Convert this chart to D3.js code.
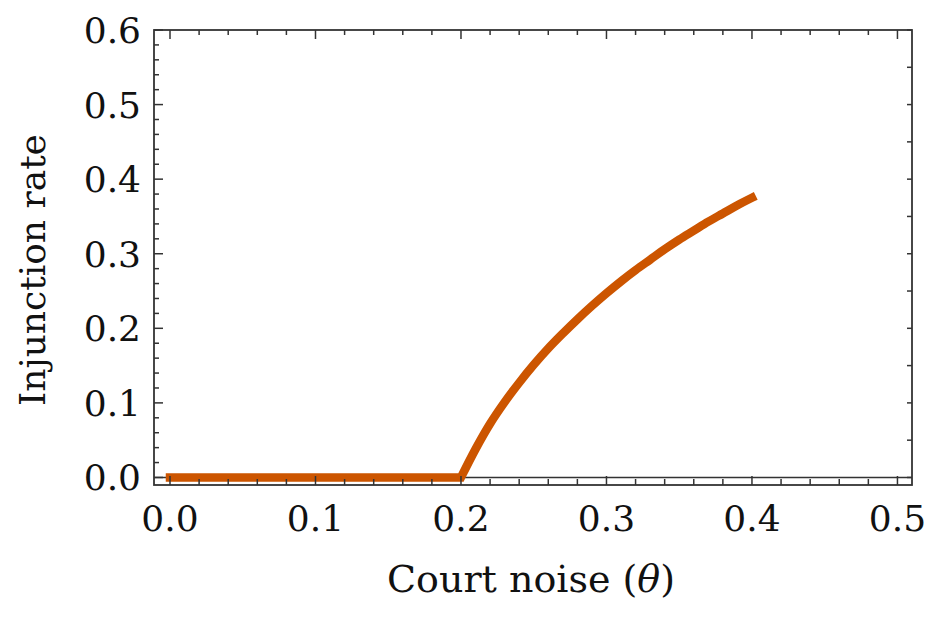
<!DOCTYPE html>
<html>
<head>
<meta charset="utf-8">
<script src="https://cdn.jsdelivr.net/npm/d3@7"></script>
<style>
  body { margin: 0; background: #fff; }
  text { font-family: "DejaVu Serif", serif; fill: #111; }
</style>
</head>
<body>
<div id="chart"></div>
<script>
// values
const flatTheta = [0, 0.05, 0.10, 0.15, 0.20];
const flatRate = [0, 0, 0, 0, 0];
const riseTheta = [0.20, 0.21, 0.22, 0.23, 0.24, 0.25, 0.26, 0.27, 0.28, 0.29, 0.30,
                   0.31, 0.32, 0.33, 0.34, 0.35, 0.36, 0.37, 0.38, 0.39, 0.40];
const riseRate = [0, 0.038, 0.072, 0.101, 0.127, 0.151, 0.173, 0.193, 0.212, 0.230, 0.247,
                  0.263, 0.278, 0.292, 0.306, 0.319, 0.331, 0.343, 0.354, 0.365, 0.375];
const xTicks = [0, 0.1, 0.2, 0.3, 0.4, 0.5];
const yTicks = [0, 0.1, 0.2, 0.3, 0.4, 0.5, 0.6];
const xTitle = "Court noise (";
const yTitle = "Injunction rate";

const width = 931, height = 618;
const svg = d3.select("#chart").append("svg")
    .attr("width", width)
    .attr("height", height);

const x = d3.scaleLinear().domain([-0.011, 0.51]).range([154, 912]);
const y = d3.scaleLinear().domain([-0.0101, 0.6]).range([485, 30]);

const frameColor = "#333";

// x axis line at y = 0
svg.append("line")
    .attr("x1", x.range()[0]).attr("x2", x.range()[1])
    .attr("y1", y(0)).attr("y2", y(0))
    .attr("stroke", frameColor).attr("stroke-width", 1.5);

// curve: flat part straight, rising part smooth, joined with a sharp corner
const flatLine = d3.line().x(d => x(d[0])).y(d => y(d[1]));
const riseLine = d3.line().x(d => x(d[0])).y(d => y(d[1])).curve(d3.curveMonotoneX);
const flatPath = flatLine(flatTheta.map((t, i) => [t, flatRate[i]]));
const risePath = riseLine(riseTheta.map((t, i) => [t, riseRate[i]]));
svg.append("path")
    .attr("d", flatPath + "L" + risePath.slice(1))
    .attr("fill", "none")
    .attr("stroke", "#cc5500")
    .attr("stroke-width", 8.5)
    .attr("stroke-linecap", "square")
    .attr("stroke-linejoin", "miter");

// frame ticks
const minorX = d3.range(0, 0.51, 0.02).filter(v => Math.abs(v * 10 - Math.round(v * 10)) > 1e-6);
const minorY = d3.range(0, 0.61, 0.02).filter(v => Math.abs(v * 10 - Math.round(v * 10)) > 1e-6);
const ticks = svg.append("g").attr("stroke", frameColor).attr("stroke-width", 1.5);
const [x0, x1] = x.range();
const [yb, yt] = y.range();

xTicks.forEach(v => {
    ticks.append("line").attr("x1", x(v)).attr("x2", x(v)).attr("y1", yb).attr("y2", yb - 9);
    ticks.append("line").attr("x1", x(v)).attr("x2", x(v)).attr("y1", yt).attr("y2", yt + 9);
});
minorX.forEach(v => {
    ticks.append("line").attr("x1", x(v)).attr("x2", x(v)).attr("y1", yb).attr("y2", yb - 6);
    ticks.append("line").attr("x1", x(v)).attr("x2", x(v)).attr("y1", yt).attr("y2", yt + 5);
});
yTicks.forEach(v => {
    ticks.append("line").attr("x1", x0).attr("x2", x0 + 9).attr("y1", y(v)).attr("y2", y(v));
});
minorY.forEach(v => {
    ticks.append("line").attr("x1", x0).attr("x2", x0 + 5).attr("y1", y(v)).attr("y2", y(v));
});
// right side carries ticks every 0.05
d3.range(0, 0.61, 0.05).forEach(v => {
    ticks.append("line").attr("x1", x1).attr("x2", x1 - 5).attr("y1", y(v)).attr("y2", y(v));
});

// frame
svg.append("rect")
    .attr("x", x0).attr("y", yt)
    .attr("width", x1 - x0).attr("height", yb - yt)
    .attr("fill", "none")
    .attr("stroke", frameColor)
    .attr("stroke-width", 1.8);

// tick labels
svg.append("g").selectAll("text")
    .data(xTicks)
    .enter().append("text")
    .attr("x", d => x(d))
    .attr("y", 531)
    .attr("text-anchor", "middle")
    .attr("font-size", 36)
    .text(d => d.toFixed(1));

svg.append("g").selectAll("text")
    .data(yTicks)
    .enter().append("text")
    .attr("x", 141)
    .attr("y", d => y(d))
    .attr("dy", "0.36em")
    .attr("text-anchor", "end")
    .attr("font-size", 36)
    .text(d => d.toFixed(1));

// axis titles
const xt = svg.append("text")
    .attr("x", 531)
    .attr("y", 592)
    .attr("text-anchor", "middle")
    .attr("font-size", 38);
xt.append("tspan").text(xTitle);
xt.append("tspan").attr("font-style", "italic").text("θ");
xt.append("tspan").text(")");

svg.append("text")
    .attr("transform", "translate(45,270) rotate(-90)")
    .attr("text-anchor", "middle")
    .attr("font-size", 36)
    .text(yTitle);
</script>
</body>
</html>
